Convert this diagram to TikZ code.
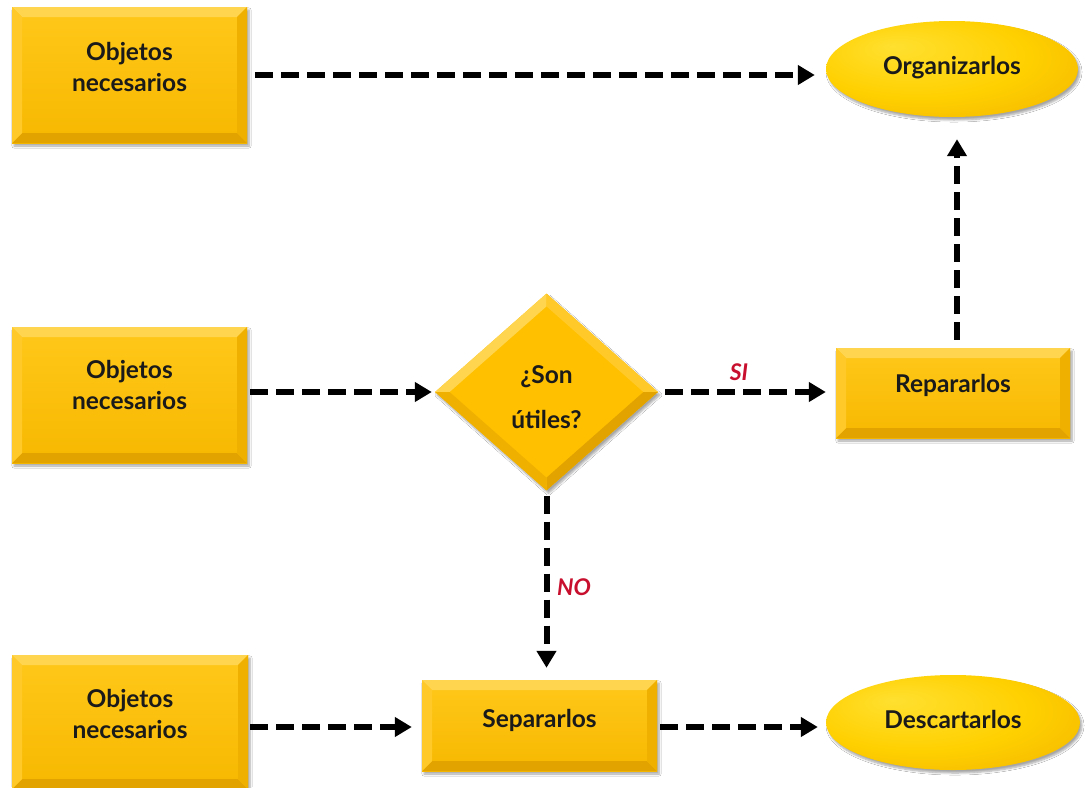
\documentclass[tikz,border=0pt]{standalone}
\usepackage{fontspec}
\setmainfont{Lato}
\usetikzlibrary{arrows.meta,shapes.geometric,calc,shadows.blur}
\definecolor{gmid}{HTML}{FFC000}
\definecolor{gtop}{HTML}{FFD54F}
\definecolor{gleft}{HTML}{FFC92A}
\definecolor{gright}{HTML}{F0B000}
\definecolor{gbot}{HTML}{E2A200}
\definecolor{gtopc}{HTML}{FFC81A}
\definecolor{gbotc}{HTML}{F7B800}
\definecolor{elin}{HTML}{FFE030}
\definecolor{elmid}{HTML}{FFD000}
\definecolor{elout}{HTML}{F2B400}
\definecolor{txt}{HTML}{1A1A1A}
\definecolor{lab}{HTML}{C8102E}
\pgfdeclareradialshading{ellsh}{\pgfpoint{-12bp}{12bp}}{color(0bp)=(elin);color(22bp)=(elmid);color(40bp)=(elout);color(50bp)=(elout)}
\tikzset{
  shadowed/.style={blur shadow={shadow xshift=2pt,shadow yshift=-3pt,shadow blur steps=6,shadow opacity=35}},
  txtstyle/.style={text=txt,font=\fontsize{24.5}{31}\selectfont\bfseries,align=center,inner sep=0pt},
  bbox/.style={rectangle,shadowed,top color=gtopc,bottom color=gbotc,inner sep=0pt,
    path picture={
      \def\b{10pt}
      \coordinate (@nw) at (path picture bounding box.north west);
      \coordinate (@ne) at (path picture bounding box.north east);
      \coordinate (@sw) at (path picture bounding box.south west);
      \coordinate (@se) at (path picture bounding box.south east);
      \fill[gtop] (@nw) -- (@ne) -- ([xshift=-\b,yshift=-\b]@ne) -- ([xshift=\b,yshift=-\b]@nw) -- cycle;
      \fill[gbot] (@sw) -- (@se) -- ([xshift=-\b,yshift=\b]@se) -- ([xshift=\b,yshift=\b]@sw) -- cycle;
      \fill[gleft] (@nw) -- (@sw) -- ([xshift=\b,yshift=\b]@sw) -- ([xshift=\b,yshift=-\b]@nw) -- cycle;
      \fill[gright] (@ne) -- (@se) -- ([xshift=-\b,yshift=\b]@se) -- ([xshift=-\b,yshift=-\b]@ne) -- cycle;
    }},
  dbox/.style={diamond,shadowed,fill=gmid,inner sep=0pt,
    path picture={
      \coordinate (@c) at (path picture bounding box.center);
      \coordinate (@n) at (path picture bounding box.north);
      \coordinate (@s) at (path picture bounding box.south);
      \coordinate (@e) at (path picture bounding box.east);
      \coordinate (@w) at (path picture bounding box.west);
      \coordinate (@n2) at ($(@n)!0.13!(@c)$);
      \coordinate (@s2) at ($(@s)!0.13!(@c)$);
      \coordinate (@e2) at ($(@e)!0.13!(@c)$);
      \coordinate (@w2) at ($(@w)!0.13!(@c)$);
      \fill[gtop] (@w) -- (@n) -- (@n2) -- (@w2) -- cycle;
      \fill[gleft] (@n) -- (@e) -- (@e2) -- (@n2) -- cycle;
      \fill[gbot] (@e) -- (@s) -- (@s2) -- (@e2) -- cycle;
      \fill[gright] (@s) -- (@w) -- (@w2) -- (@s2) -- cycle;
    }},
  ebox/.style={ellipse,shadowed,shading=ellsh,inner sep=0pt},
  arr/.style={line width=6pt,dash pattern=on 18pt off 8pt,-{Triangle[length=17pt,width=19pt]}},
  lbl/.style={text=lab,font=\fontsize{23}{26}\selectfont\bfseries\itshape,inner sep=0pt}
}
\begin{document}
\begin{tikzpicture}[x=1pt,y=-1pt]
\fill[white] (0,0) rectangle (1086,787);
\useasboundingbox (0,0) rectangle (1086,787);
\node[bbox,minimum width=235pt,minimum height=136pt] (o1) at (129.5,75) {};
\node[bbox,minimum width=235pt,minimum height=136pt] (o2) at (129.5,395) {};
\node[bbox,minimum width=236pt,minimum height=134pt] (o3) at (130,722) {};
\node[dbox,minimum width=223pt,minimum height=197pt] (dec) at (546.5,392) {};
\node[bbox,minimum width=234pt,minimum height=90pt] (rep) at (953,393) {};
\node[ebox,minimum width=252pt,minimum height=96pt] (org) at (952,69) {};
\node[bbox,minimum width=235pt,minimum height=91pt] (sep) at (539.5,725.5) {};
\node[ebox,minimum width=254pt,minimum height=95pt] (des) at (953,722.5) {};
\node[txtstyle] (o1t) at ([yshift=8pt]o1.center) {Objetos\\necesarios};
\node[txtstyle] (o2t) at ([yshift=10pt]o2.center) {Objetos\\necesarios};
\node[txtstyle] (o3t) at ([yshift=8pt]o3.center) {Objetos\\necesarios};
\node[txtstyle,font=\fontsize{24.5}{45}\selectfont\bfseries] (dect) at ([yshift=-5pt]dec.center) {¿Son\\útiles?};
\node[txtstyle] (rept) at ([yshift=8pt]rep.center) {Repararlos};
\node[txtstyle] (orgt) at ([yshift=1pt]org.center) {Organizarlos};
\node[txtstyle] (sept) at ([yshift=5pt]sep.center) {Separarlos};
\node[txtstyle] (dest) at ([yshift=3pt]des.center) {Descartarlos};
\draw[arr,shorten <=8pt,shorten >=11pt] (o1.east) -- (o1.east -| org.west);
\draw[arr,shorten <=3pt,shorten >=3pt] (o2.east |- dec.west) -- (dec.west);
\draw[arr,shorten <=7pt,shorten >=10pt] (dec.east) -- (dec.east -| rep.west);
\draw[arr,shorten <=8pt,shorten >=22pt] ([xshift=4pt]rep.north) -- ([xshift=4pt]rep.north |- org.south);
\draw[arr,shorten <=5pt,shorten >=12pt] (dec.south) -- (dec.south |- sep.north);
\draw[arr,shorten <=2pt,shorten >=10pt] ([yshift=-1.5pt]sep.west -| o3.east) -- ([yshift=-1.5pt]sep.west);
\draw[arr,shorten <=3pt,shorten >=8pt] ([yshift=-1.5pt]sep.east) -- ([yshift=-1.5pt]sep.east -| des.west);
\node[lbl] (si) at (739,372) {SI};
\node[lbl] (no) at (574,587) {NO};
\end{tikzpicture}
\end{document}
